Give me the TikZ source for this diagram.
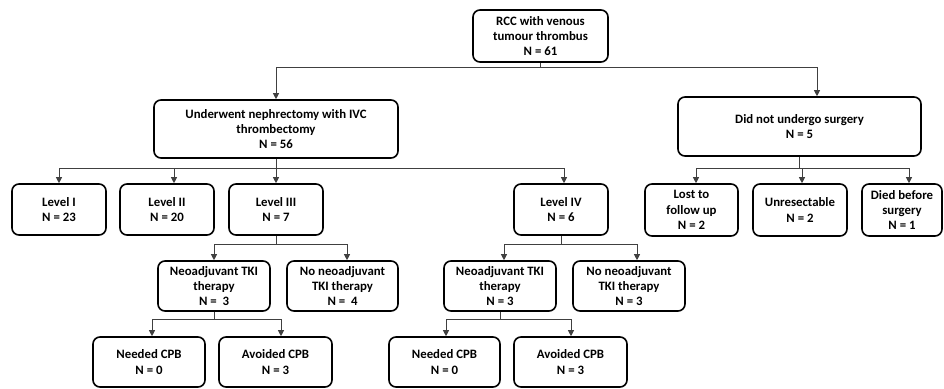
\documentclass[tikz,border=0pt]{standalone}
\usepackage{fontspec}
\setmainfont{Carlito}
\usetikzlibrary{arrows.meta}
\begin{document}
\begin{tikzpicture}[x=1pt,y=-1pt,
  box/.style={draw,line width=1.6pt,rounded corners=7pt,inner sep=0pt,align=center,
    font=\fontsize{12.8}{15.3}\selectfont\bfseries},
  conn/.style={draw=black!75,line width=0.9pt},
  arr/.style={conn,-{Triangle[length=6pt,width=6pt]}}]
\useasboundingbox (0,0) rectangle (944,388);
% nodes
\node[box,minimum width=135pt,minimum height=52pt] (root) at (540.5,36) {RCC with venous\\tumour thrombus\\N = 61};
\node[box,minimum width=244pt,minimum height=58pt] (under) at (276,129) {Underwent nephrectomy with IVC\\thrombectomy\\N = 56};
\node[box,minimum width=243pt,minimum height=59pt] (didnot) at (799.5,126.5) {Did not undergo surgery\\N = 5};
\node[box,minimum width=94pt,minimum height=51pt] (L1) at (59,209.5) {Level I\\N = 23};
\node[box,minimum width=94pt,minimum height=51pt] (L2) at (167,209.5) {Level II\\N = 20};
\node[box,minimum width=94pt,minimum height=51pt] (L3) at (276,209.5) {Level III\\N = 7};
\node[box,minimum width=94pt,minimum height=51pt] (L4) at (561,209.5) {Level IV\\N = 6};
\node[box,minimum width=93pt,minimum height=52pt] (lost) at (691.5,210) {Lost to\\follow up\\N = 2};
\node[box,minimum width=94pt,minimum height=52pt] (unres) at (800,210) {Unresectable\\N = 2};
\node[box,minimum width=80pt,minimum height=52pt] (died) at (902,210) {Died before\\surgery\\N = 1};
\node[box,minimum width=112pt,minimum height=50pt] (neo3) at (214,286) {Neoadjuvant TKI\\therapy\\N =\ \ 3};
\node[box,minimum width=111pt,minimum height=50pt] (noneo3) at (342.5,286) {No neoadjuvant\\TKI therapy\\N =\ \ 4};
\node[box,minimum width=112pt,minimum height=50pt] (neo4) at (500,286) {Neoadjuvant TKI\\therapy\\N = 3};
\node[box,minimum width=112pt,minimum height=50pt] (noneo4) at (629,286) {No neoadjuvant\\TKI therapy\\N = 3};
\node[box,minimum width=112pt,minimum height=50pt] (need3) at (149,362) {Needed CPB\\N = 0};
\node[box,minimum width=113pt,minimum height=50pt] (avoid3) at (275.5,362) {Avoided CPB\\N = 3};
\node[box,minimum width=111pt,minimum height=50pt] (need4) at (444.5,362) {Needed CPB\\N = 0};
\node[box,minimum width=113pt,minimum height=50pt] (avoid4) at (570.5,362) {Avoided CPB\\N = 3};
% branch points
\coordinate (t1) at (276,67); \coordinate (t2) at (817,67);
\coordinate (a1) at (59,168); \coordinate (a2) at (174,168); \coordinate (a3) at (276,168); \coordinate (a4) at (564,168);
\coordinate (d1) at (696,168); \coordinate (d2) at (802,168); \coordinate (d3) at (909,168);
\coordinate (n1) at (214,244); \coordinate (n2) at (347,244);
\coordinate (m1) at (504,244); \coordinate (m2) at (637,244);
\coordinate (c1) at (152,319); \coordinate (c2) at (281,319);
\coordinate (e1) at (446,319); \coordinate (e2) at (571,319);
% connectors
\draw[conn] (root.south) -- (root.south |- t1);
\draw[conn] (t1) -- (t2);
\draw[arr] (t1) -- (t1 |- under.north);
\draw[arr] (t2) -- (t2 |- didnot.north);
\draw[conn] (under.south) -- (under.south |- a1);
\draw[conn] (a1) -- (a4);
\draw[arr] (a1) -- (a1 |- L1.north);
\draw[arr] (a2) -- (a2 |- L2.north);
\draw[arr] (a3) -- (a3 |- L3.north);
\draw[arr] (a4) -- (a4 |- L4.north);
\draw[conn] (didnot.south) -- (didnot.south |- d1);
\draw[conn] (d1) -- (d3);
\draw[arr] (d1) -- (d1 |- lost.north);
\draw[arr] (d2) -- (d2 |- unres.north);
\draw[arr] (d3) -- (d3 |- died.north);
\draw[conn] (L3.south) -- (L3.south |- n1);
\draw[conn] (n1) -- (n2);
\draw[arr] (n1) -- (n1 |- neo3.north);
\draw[arr] (n2) -- (n2 |- noneo3.north);
\draw[conn] (L4.south) -- (L4.south |- m1);
\draw[conn] (m1) -- (m2);
\draw[arr] (m1) -- (m1 |- neo4.north);
\draw[arr] (m2) -- (m2 |- noneo4.north);
\draw[conn] (neo3.south) -- (neo3.south |- c1);
\draw[conn] (c1) -- (c2);
\draw[arr] (c1) -- (c1 |- need3.north);
\draw[arr] (c2) -- (c2 |- avoid3.north);
\draw[conn] (neo4.south) -- (neo4.south |- e1);
\draw[conn] (e1) -- (e2);
\draw[arr] (e1) -- (e1 |- need4.north);
\draw[arr] (e2) -- (e2 |- avoid4.north);
\end{tikzpicture}
\end{document}
